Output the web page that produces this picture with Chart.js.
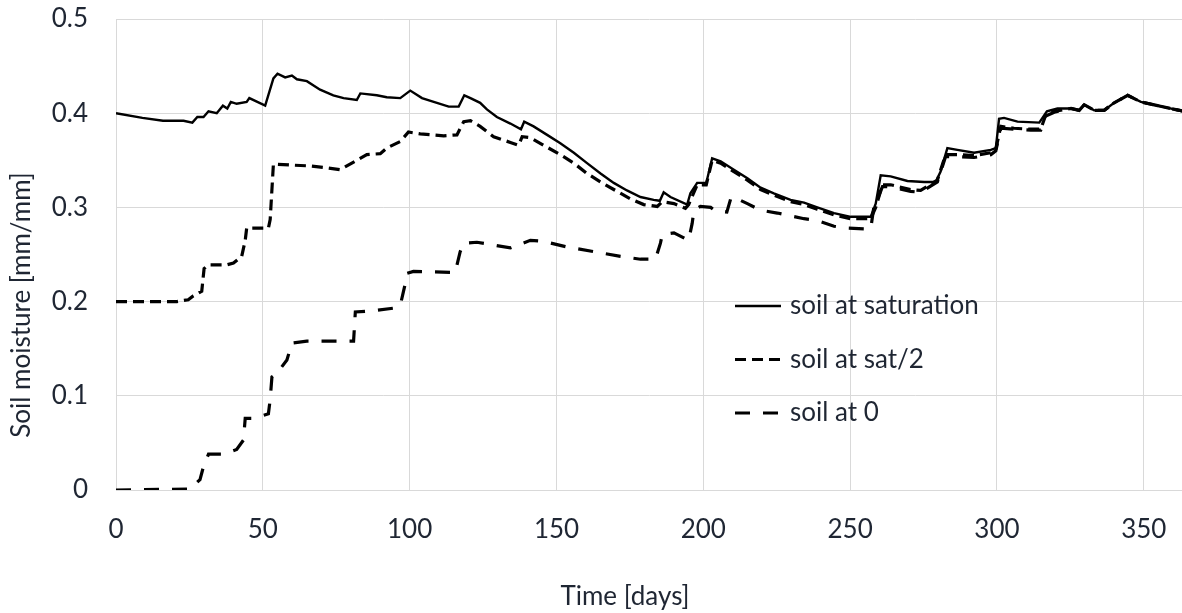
<!DOCTYPE html>
<html>
<head>
<meta charset="utf-8">
<title>Soil moisture</title>
<script src="https://cdn.jsdelivr.net/npm/chart.js@4.4.0/dist/chart.umd.min.js"></script>
<style>
  html, body { margin: 0; padding: 0; background: #fff; }
  #wrap { width: 1182px; height: 613px; }
</style>
</head>
<body>
<div id="wrap"><canvas id="soilChart" width="1182" height="613"></canvas></div>
<script>
// values (day, soil moisture in mm/mm)
var satDays = [0, 9, 16, 23, 26, 27.7, 29.8, 31.5, 34.3, 36.4, 37.9, 39.1, 41.1, 44.5, 45.4, 50.8, 53.6, 55, 57.6, 59.9,
    61.6, 65, 69.5, 74, 77.5, 82, 83.2, 88.8, 92.2, 96.8, 100.2, 104.2, 108.2, 113.3, 116.7, 118.6, 120.7, 124, 126.3, 129.7,
    134.3, 137.9, 139, 142.2, 146.8, 151.3, 155.9, 160.4, 165, 169.5, 174, 178.6, 183.1, 185.2, 186.5, 188.8, 194.5, 195.6, 197.9, 201,
    203, 205.9, 210.4, 215, 219.5, 224, 229.7, 234.3, 238.8, 244.5, 250.2, 257, 258.7, 260.4, 263.8, 269.5, 275.2, 279.1, 280.8, 283.1,
    286.5, 292.2, 297.9, 299.6, 300.7, 302.4, 307, 314.4, 317, 320.6, 325.2, 328, 329.7, 333.1, 336.5, 339.9, 344.5, 349, 354.7, 365];
var satVals = [0.400, 0.395, 0.392, 0.392, 0.390, 0.396, 0.396, 0.402, 0.400, 0.408, 0.405, 0.412, 0.410, 0.412, 0.416, 0.408, 0.437, 0.442, 0.438, 0.440,
    0.436, 0.434, 0.425, 0.419, 0.416, 0.414, 0.421, 0.419, 0.417, 0.416, 0.424, 0.416, 0.412, 0.407, 0.407, 0.419, 0.416, 0.411, 0.404, 0.396,
    0.389, 0.383, 0.391, 0.386, 0.377, 0.368, 0.358, 0.347, 0.336, 0.326, 0.318, 0.311, 0.308, 0.307, 0.316, 0.311, 0.303, 0.315, 0.326, 0.326,
    0.352, 0.349, 0.340, 0.331, 0.321, 0.315, 0.308, 0.305, 0.300, 0.294, 0.290, 0.290, 0.304, 0.334, 0.333, 0.328, 0.327, 0.327, 0.338, 0.363,
    0.361, 0.358, 0.361, 0.363, 0.394, 0.395, 0.391, 0.390, 0.402, 0.405, 0.405, 0.403, 0.409, 0.403, 0.403, 0.411, 0.419, 0.412, 0.408, 0.401];

var halfDays = [0, 20.7, 24.6, 26.3, 29.2, 30, 31.5, 37.7, 40, 42.8, 44, 44.5, 51.9, 52.5, 53.6, 59.3, 66.1, 71.8, 76.3, 78,
    82, 85.4, 90, 92.2, 96.8, 99.6, 103.6, 111.6, 116.1, 118.4, 120.7, 124, 128.6, 134.3, 137.1, 138.3, 141.1, 145.6, 151.3, 155.9,
    160.4, 165, 169.5, 175.2, 179.7, 184.3, 186, 190, 193.9, 195, 197.9, 201, 203, 205.9, 210.4, 215, 219.5, 224, 229.7, 234.3,
    238.8, 244.5, 250.2, 257, 258.7, 261, 263.8, 270.6, 274, 279.7, 282.5, 286.5, 292.2, 297.9, 299.6, 301.3, 305.8, 311.5, 314.9, 316.6,
    319.5, 325.2, 328, 329.7, 333.1, 336.5, 339.9, 344.5, 349, 354.7, 365];
var halfVals = [0.200, 0.200, 0.202, 0.206, 0.211, 0.235, 0.239, 0.239, 0.241, 0.248, 0.265, 0.278, 0.278, 0.287, 0.346, 0.345, 0.344, 0.342, 0.340, 0.343,
    0.350, 0.356, 0.357, 0.363, 0.370, 0.380, 0.378, 0.376, 0.377, 0.391, 0.392, 0.386, 0.375, 0.369, 0.366, 0.375, 0.374, 0.366, 0.356, 0.347,
    0.336, 0.327, 0.319, 0.309, 0.303, 0.301, 0.306, 0.304, 0.299, 0.303, 0.324, 0.324, 0.350, 0.347, 0.338, 0.329, 0.319, 0.313, 0.306, 0.303,
    0.298, 0.292, 0.288, 0.288, 0.300, 0.324, 0.324, 0.319, 0.318, 0.329, 0.356, 0.356, 0.355, 0.358, 0.362, 0.386, 0.384, 0.383, 0.383, 0.398,
    0.402, 0.405, 0.403, 0.409, 0.403, 0.403, 0.411, 0.419, 0.412, 0.408, 0.401];

var zeroDays = [0, 25.2, 28.6, 29.8, 31.5, 36.6, 41.1, 43.4, 44, 46.8, 51.9, 52.5, 53.1, 54.8, 58.2, 59.9, 65, 80.9, 81.5, 86.6,
    94.5, 96.8, 98.5, 99.1, 101.3, 115.5, 117.2, 118.4, 122.9, 134.3, 141.1, 145.6, 153.6, 162.7, 171.8, 178.6, 183.7, 185.4, 186, 190,
    195, 196.2, 196.8, 199, 202.5, 204.2, 208, 209.5, 211, 215, 219.5, 225.2, 234.3, 238.8, 244.5, 249, 257, 258, 261, 263.8,
    270.6, 274, 279.7, 282.5, 286.5, 292.2, 297.9, 299.6, 301.3, 305.8, 311.5, 314.9, 316.6, 319.5, 325.2, 328, 329.7, 333.1, 336.5, 339.9,
    344.5, 349, 354.7, 365];
var zeroVals = [0.000, 0.001, 0.011, 0.025, 0.038, 0.038, 0.043, 0.053, 0.076, 0.076, 0.081, 0.096, 0.120, 0.124, 0.138, 0.156, 0.158, 0.158, 0.189, 0.190,
    0.193, 0.196, 0.219, 0.230, 0.232, 0.231, 0.253, 0.262, 0.263, 0.257, 0.265, 0.264, 0.258, 0.253, 0.248, 0.245, 0.245, 0.262, 0.271, 0.273,
    0.265, 0.283, 0.297, 0.301, 0.300, 0.296, 0.295, 0.311, 0.310, 0.304, 0.297, 0.294, 0.288, 0.286, 0.280, 0.278, 0.277, 0.299, 0.322, 0.322,
    0.317, 0.316, 0.327, 0.354, 0.354, 0.353, 0.356, 0.360, 0.384, 0.383, 0.382, 0.382, 0.397, 0.401, 0.405, 0.403, 0.409, 0.403, 0.403, 0.411,
    0.419, 0.412, 0.408, 0.401];

var seriesNames = ['soil at saturation', 'soil at sat/2', 'soil at 0'];
var xTickValues = [0, 50, 100, 150, 200, 250, 300, 350];
var yTickValues = [0, 0.1, 0.2, 0.3, 0.4, 0.5];

var textColor = '#1f2633';
var gridColor = '#d9d9d9';
var fontFamily = 'Lato, "Open Sans", sans-serif';

function toPoints(days, vals) {
    return days.map(function (d, i) { return { x: d, y: vals[i] }; });
}

// legend and axis titles drawn by hand, Excel style
var overlay = {
    id: 'overlay',
    afterDraw: function (chart) {
        var ctx = chart.ctx;
        ctx.save();
        ctx.fillStyle = textColor;
        ctx.font = '26px ' + fontFamily;
        ctx.textAlign = 'center';
        ctx.textBaseline = 'middle';
        ctx.fillText('Time [days]', 625, 597);

        ctx.save();
        ctx.translate(22, 305);
        ctx.rotate(-Math.PI / 2);
        ctx.fillText('Soil moisture [mm/mm]', 0, 0);
        ctx.restore();

        ctx.textAlign = 'left';
        chart.data.datasets.forEach(function (ds, i) {
            var y = 306 + i * 53.5;
            ctx.save();
            ctx.strokeStyle = ds.borderColor;
            ctx.lineWidth = ds.borderWidth;
            ctx.setLineDash(ds.borderDash || []);
            ctx.beginPath();
            ctx.moveTo(735, y);
            ctx.lineTo(781, y);
            ctx.stroke();
            ctx.restore();
            ctx.fillText(ds.label, 790, y);
        });
        ctx.restore();
    }
};

const soilChart = document.getElementById('soilChart');
const myChart = new Chart(soilChart, {
    type: 'line',
    data: {
        datasets: [{
            label: seriesNames[0],
            data: toPoints(satDays, satVals),
            borderColor: '#000000',
            borderWidth: 2.4,
            pointRadius: 0
        }, {
            label: seriesNames[1],
            data: toPoints(halfDays, halfVals),
            borderColor: '#000000',
            borderWidth: 3.2,
            borderDash: [11, 6],
            pointRadius: 0
        }, {
            label: seriesNames[2],
            data: toPoints(zeroDays, zeroVals),
            borderColor: '#000000',
            borderWidth: 3.2,
            borderDash: [15, 13],
            pointRadius: 0
        }]
    },
    options: {
        responsive: false,
        animation: false,
        layout: { padding: { top: 19, right: 0, left: 0, bottom: 0 } },
        plugins: {
            legend: { display: false },
            tooltip: { enabled: false }
        },
        scales: {
            x: {
                type: 'linear',
                min: 0,
                max: 363,
                afterBuildTicks: function (scale) {
                    scale.ticks = xTickValues.map(function (v) { return { value: v }; });
                },
                afterFit: function (scale) {
                    scale.height = 123;
                    scale.paddingLeft = 0;
                    scale.paddingRight = 0;
                },
                grid: { color: gridColor, lineWidth: 1, drawTicks: false },
                border: { color: gridColor },
                ticks: {
                    color: textColor,
                    padding: 24,
                    maxRotation: 0,
                    font: { family: fontFamily, size: 26 }
                }
            },
            y: {
                min: 0,
                max: 0.5,
                afterBuildTicks: function (scale) {
                    scale.ticks = yTickValues.map(function (v) { return { value: v }; });
                },
                afterFit: function (scale) {
                    scale.width = 116;
                    scale.paddingTop = 0;
                    scale.paddingBottom = 0;
                },
                grid: { color: gridColor, lineWidth: 1, drawTicks: false },
                border: { color: gridColor },
                ticks: {
                    color: textColor,
                    padding: 28,
                    font: { family: fontFamily, size: 26 },
                    callback: function (v) { return String(Math.round(v * 10) / 10); }
                }
            }
        }
    },
    plugins: [overlay]
});
</script>
</body>
</html>
